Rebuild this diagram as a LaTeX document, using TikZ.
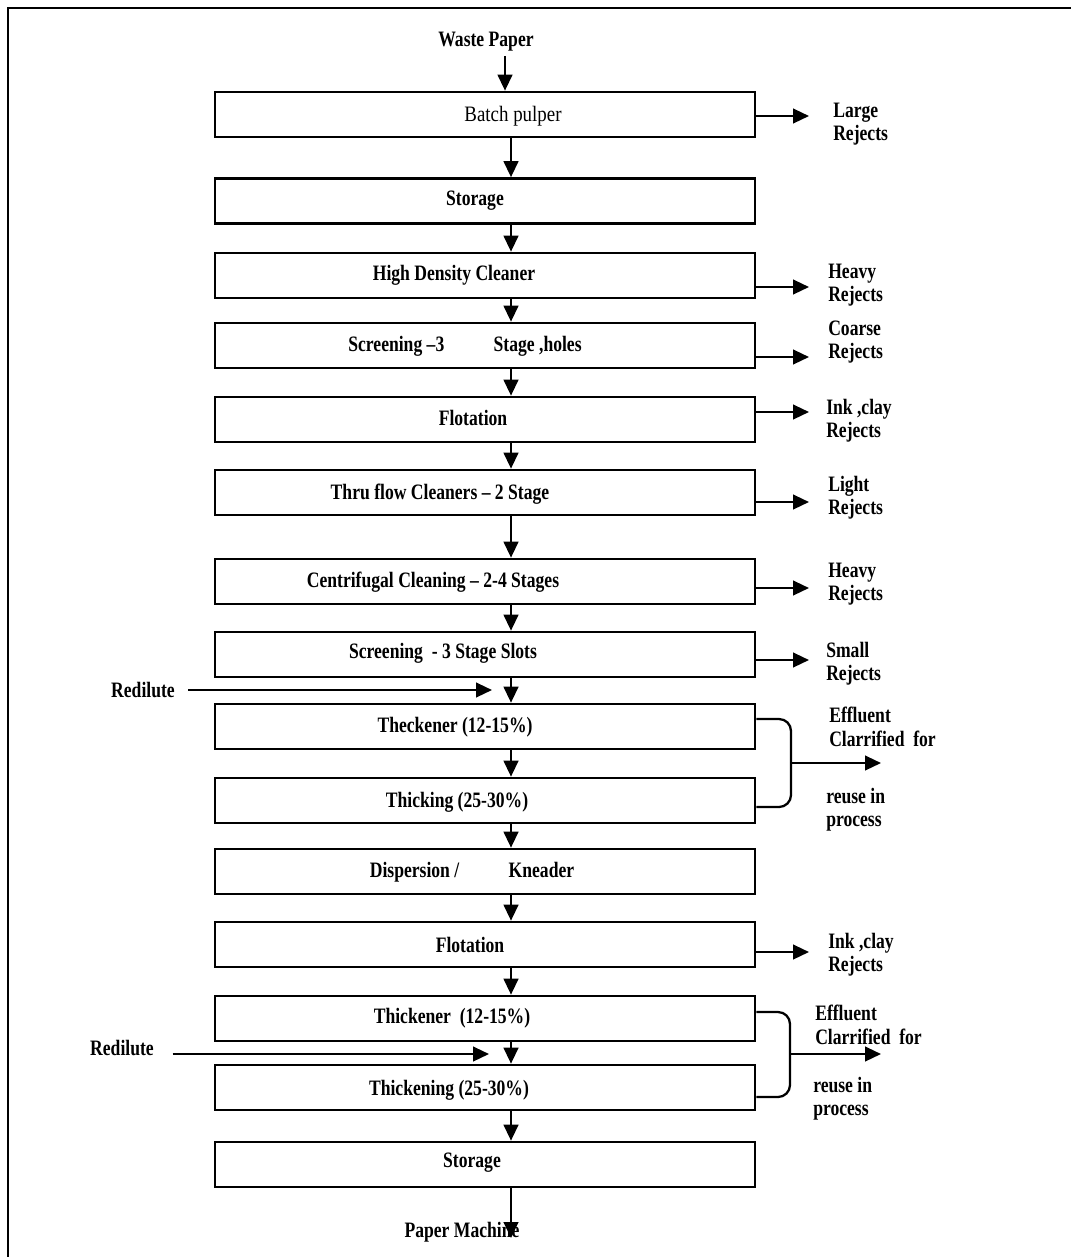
\documentclass[tikz,border=0pt]{standalone}
\usepackage{fontspec}
\setmainfont{Liberation Serif}[FakeStretch=0.8]
\newfontfamily\regfont{Liberation Serif}[FakeStretch=0.86]
\usetikzlibrary{arrows.meta}
\begin{document}
\begin{tikzpicture}[x=0.75pt,y=-0.75pt,
  box/.style={draw, line width=2pt, minimum width=405pt, minimum height=33.75pt, inner sep=0pt},
  txt/.style={inner sep=0pt, font=\fontsize{16.5}{17.5}\selectfont\bfseries},
  rtxt/.style={txt, anchor=west, align=left},
  arr/.style={line width=1.7pt, -{Triangle[length=12pt,width=11pt]}},
  brk/.style={line width=1.7pt, rounded corners=9pt}]
\useasboundingbox (0,0) rectangle (1071,1257);
\draw[line width=2.2pt] (8,1257) -- (8,8) -- (1071,8);
% boxes
\node[box] (b1) at (485,114.5) {};
\node[box] (b2) at (485,201) {};
\node[box] (b3) at (485,275.5) {};
\node[box] (b4) at (485,345.5) {};
\node[box] (b5) at (485,419.5) {};
\node[box] (b6) at (485,492.5) {};
\node[box] (b7) at (485,581.5) {};
\node[box] (b8) at (485,654.5) {};
\node[box] (b9) at (485,726.5) {};
\node[box] (b10) at (485,800.5) {};
\node[box] (b11) at (485,871.5) {};
\node[box] (b12) at (485,944.5) {};
\node[box] (b13) at (485,1018.5) {};
\node[box] (b14) at (485,1087.5) {};
\node[box] (b15) at (485,1164.5) {};
% box texts
\node[txt] (t1) at (513,116) {\regfont\mdseries Batch pulper};
\node[txt] (t2) at (475,201) {Storage};
\node[txt] (t3) at (454,275) {High Density Cleaner};
\node[txt] (t4) at (465,346) {Screening –3\hspace{37pt}Stage ,holes};
\node[txt] (t5) at (473,418) {Flotation};
\node[txt] (t6) at (440,494) {Thru flow Cleaners – 2 Stage};
\node[txt] (t7) at (433,582) {Centrifugal Cleaning – 2-4 Stages};
\node[txt] (t8) at (443,653) {Screening\ \ - 3 Stage Slots};
\node[txt] (t9) at (455,727) {Theckener (12-15\%)};
\node[txt] (t10) at (457,802) {Thicking (25-30\%)};
\node[txt] (t11) at (472,872) {Dispersion /\hspace{37pt}Kneader};
\node[txt] (t12) at (470,945) {Flotation};
\node[txt] (t13) at (452,1018) {Thickener\ \ (12-15\%)};
\node[txt] (t14) at (449,1090) {Thickening (25-30\%)};
\node[txt] (t15) at (472,1163) {Storage};
\node[txt] (wp) at (486,42) {Waste Paper};
\node[txt] (pm) at (462,1232) {Paper Machine};
% vertical flow
\coordinate (ax) at (511,0);
\coordinate (wx) at (505,0);
\draw[arr] ([yshift=-3pt]wp.south -| wx) -- (b1.north -| wx);
\draw[arr] (b1.south -| ax) -- (b2.north -| ax);
\draw[arr] (b2.south -| ax) -- (b3.north -| ax);
\draw[arr] (b3.south -| ax) -- (b4.north -| ax);
\draw[arr] (b4.south -| ax) -- (b5.north -| ax);
\draw[arr] (b5.south -| ax) -- (b6.north -| ax);
\draw[arr] (b6.south -| ax) -- (b7.north -| ax);
\draw[arr] (b7.south -| ax) -- (b8.north -| ax);
\draw[arr] (b8.south -| ax) -- (b9.north -| ax);
\draw[arr] (b9.south -| ax) -- (b10.north -| ax);
\draw[arr] (b10.south -| ax) -- (b11.north -| ax);
\draw[arr] (b11.south -| ax) -- (b12.north -| ax);
\draw[arr] (b12.south -| ax) -- (b13.north -| ax);
\draw[arr] (b13.south -| ax) -- (b14.north -| ax);
\draw[arr] (b14.south -| ax) -- (b15.north -| ax);
\coordinate (pmt) at (511,1238);
\draw[arr] (b15.south -| ax) -- (pmt);
% rejects
\coordinate (r1) at (809,116);
\coordinate (r3) at (809,287);
\coordinate (r4) at (809,357);
\coordinate (r5) at (809,412);
\coordinate (r6) at (809,502);
\coordinate (r7) at (809,588);
\coordinate (r8) at (809,660);
\coordinate (r12) at (809,952);
\draw[arr] (b1.east |- r1) -- (r1);
\draw[arr] (b3.east |- r3) -- (r3);
\draw[arr] (b4.east |- r4) -- (r4);
\draw[arr] (b5.east |- r5) -- (r5);
\draw[arr] (b6.east |- r6) -- (r6);
\draw[arr] (b7.east |- r7) -- (r7);
\draw[arr] (b8.east |- r8) -- (r8);
\draw[arr] (b12.east |- r12) -- (r12);
\node[rtxt] (l1) at (833,124) {Large\\Rejects};
\node[rtxt] (l3) at (828,285) {Heavy\\Rejects};
\node[rtxt] (l4) at (828,342) {Coarse\\Rejects};
\node[rtxt] (l5) at (826,421) {Ink\ ,clay\\Rejects};
\node[rtxt] (l6) at (828,498) {Light\\Rejects};
\node[rtxt] (l7) at (828,584) {Heavy\\Rejects};
\node[rtxt] (l8) at (826,664) {Small\\Rejects};
\node[rtxt] (l12) at (828,955) {Ink\ ,clay\\Rejects};
% redilute
\node[txt] (rd1) at (143,690) {Redilute};
\coordinate (rd1e) at (492,690);
\draw[arr] ([xshift=10pt]rd1.east) -- (rd1e);
\node[txt] (rd2) at (122,1048) {Redilute};
\coordinate (rd2e) at (489,1054);
\draw[arr] ([xshift=14pt]rd2.east |- rd2e) -- (rd2e);
% effluent brackets
\draw[brk] (b9.east |- 0,719) -- (791,719) -- (791,807) -- (b10.east |- 0,807);
\coordinate (k1) at (791,763);
\coordinate (e1) at (881,763);
\draw[arr] (k1) -- (e1);
\node[rtxt] (ef1) at (829,727) {Effluent\\Clarrified\ \ for};
\node[rtxt] (ru1) at (826,810) {reuse in\\process};
\draw[brk] (b13.east |- 0,1012) -- (790,1012) -- (790,1097) -- (b14.east |- 0,1097);
\coordinate (k2) at (790,1054);
\coordinate (e2) at (881,1054);
\draw[arr] (k2) -- (e2);
\node[rtxt] (ef2) at (815,1025) {Effluent\\Clarrified\ \ for};
\node[rtxt] (ru2) at (813,1099) {reuse in\\process};
\end{tikzpicture}
\end{document}
